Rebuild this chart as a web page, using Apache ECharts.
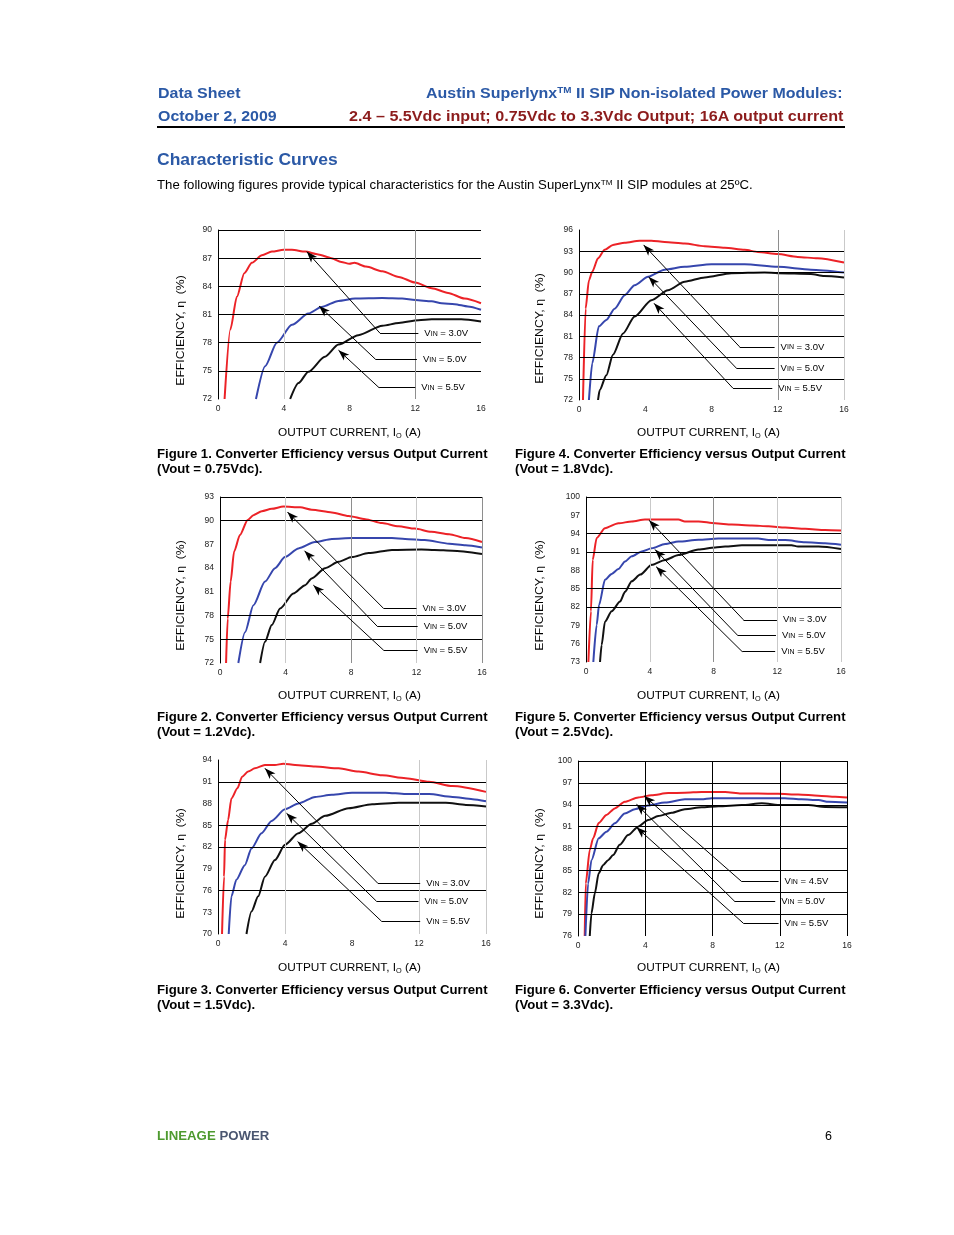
<!DOCTYPE html>
<html><head><meta charset="utf-8">
<script src="https://cdn.jsdelivr.net/npm/echarts@6/dist/echarts.min.js"></script>
<style>
html,body{margin:0;padding:0;background:#fff;}
body{width:954px;height:1235px;position:relative;overflow:hidden;font-family:"Liberation Sans",Arial,sans-serif;}
#chart{position:absolute;left:0;top:0;width:954px;height:1235px;}
.t{position:absolute;white-space:nowrap;transform-origin:0 50%;color:#000;}
.t sub{font-size:0.62em;line-height:0;vertical-align:-0.25em;}
.t .tm{font-size:0.62em;line-height:0;vertical-align:0.55em;}
.rule{position:absolute;left:157px;top:126px;width:688px;height:2px;background:#000;}
</style></head><body>
<div id="chart"></div>
<div class="rule"></div>
<script>
// ---------------- DATA ----------------
const xTicks = [0, 4, 8, 12, 16];
const yTicks1 = [72, 75, 78, 81, 84, 87, 90];
const yTicks2 = [72, 75, 78, 81, 84, 87, 90, 93];
const yTicks3 = [70, 73, 76, 79, 82, 85, 88, 91, 94];
const yTicks4 = [72, 75, 78, 81, 84, 87, 90, 93, 96];
const yTicks5 = [73, 76, 79, 82, 85, 88, 91, 94, 97, 100];
const yTicks6 = [76, 79, 82, 85, 88, 91, 94, 97, 100];

// Figure 1 (Vout = 0.75Vdc)
const f1_v30 = [[0.40,72],[0.75,79.4],[1.15,82.9],[1.6,85.4],[2.06,86.5],[2.67,87.3],[3.28,87.7],[4.0,87.9],[4.5,87.9],[5.3,87.7],[6.1,87.4],[6.9,87.0],[7.5,86.6],[8.0,86.4],[8.3,86.5],[9.0,86.1],[10,85.6],[11,85.0],[12,84.4],[13,83.8],[14,83.3],[15,82.7],[16,82.2]];
const f1_v50 = [[2.31,72],[2.87,75.5],[3.58,78.0],[4.5,79.9],[5.5,81.1],[6.3,81.8],[7.33,82.45],[8.34,82.7],[10,82.75],[11.2,82.7],[12,82.55],[13,82.4],[13.6,82.2],[14.4,82.1],[15.2,81.85],[16,81.5]];
const f1_v55 = [[4.39,72],[4.9,73.7],[5.5,74.9],[6.5,76.5],[7.33,77.8],[8.54,78.8],[10,79.8],[11,80.1],[12.2,80.4],[13,80.5],[14.8,80.5],[16,80.25]];

// Figure 2 (Vout = 1.2Vdc)
const f2_v30 = [[0.37,72],[0.47,77.6],[0.65,82.3],[0.86,86.1],[1.22,88.2],[1.69,90.1],[2.04,90.7],[2.55,91.2],[3.16,91.5],[3.87,91.8],[4.9,91.7],[5.6,91.4],[6.83,91.05],[7.85,90.6],[8.87,90.2],[9.9,89.7],[10.9,89.3],[11.9,89.0],[12.9,88.6],[14,88.3],[15,87.8],[16,87.3]];
const f2_v50 = [[1.12,72],[1.53,75.9],[2.04,79.3],[2.75,82.3],[3.36,84.0],[3.97,85.4],[4.79,86.5],[5.8,87.3],[6.83,87.7],[8.05,87.8],[10.5,87.8],[11.3,87.7],[12.5,87.55],[14,87.1],[15,86.9],[16,86.6]];
const f2_v55 = [[2.45,72],[2.75,74.7],[3.16,76.8],[3.67,78.9],[4.48,80.8],[5.2,81.85],[5.6,82.7],[6.42,84.0],[7.24,84.8],[8.05,85.4],[9.07,85.9],[10.5,86.3],[12.3,86.35],[13.1,86.3],[14.2,86.2],[16,85.8]];

// Figure 3 (Vout = 1.5Vdc)
const f3_v30 = [[0.24,70],[0.36,77.9],[0.42,83.0],[0.6,85.7],[0.8,88.7],[1.16,90.1],[1.44,91.7],[1.8,92.4],[2.2,92.85],[2.8,93.3],[3.4,93.3],[3.9,93.5],[4.6,93.3],[5.8,93.1],[7.2,92.85],[8.4,92.4],[9.8,91.9],[11.2,91.5],[12.6,91.0],[14,90.4],[16,89.6]];
const f3_v50 = [[0.64,70],[0.8,75.2],[1.1,77.5],[1.6,79.5],[2.0,81.8],[2.6,83.9],[3.2,85.6],[4.0,87.2],[4.8,88.0],[5.8,88.9],[6.8,89.2],[8.0,89.5],[10,89.5],[11.2,89.3],[12.6,89.3],[14,88.9],[15.2,88.6],[16,88.3]];
const f3_v55 = [[1.7,70],[2.0,73.1],[2.4,75.2],[2.8,77.9],[3.4,80.2],[4.0,82.3],[4.8,83.9],[5.6,85.2],[6.4,86.3],[7.8,87.35],[9.2,87.9],[10.8,88.1],[13.6,88.1],[14.8,87.8],[16,87.6]];

// Figure 4 (Vout = 1.8Vdc)
const f4_v30 = [[0.24,72],[0.4,84.9],[0.6,88.9],[0.8,90.1],[1.15,92.0],[1.55,93.2],[2.05,93.9],[2.76,94.2],[3.66,94.5],[4.37,94.5],[5.17,94.3],[6.38,94.1],[7.59,93.7],[8.8,93.5],[10,93.2],[10.8,92.9],[12,92.6],[13.2,92.2],[14.4,92.0],[16,91.4]];
const f4_v50 = [[0.6,72],[0.8,77.2],[1.2,82.4],[1.65,83.3],[2.15,84.9],[2.76,86.8],[3.36,88.2],[4.17,89.4],[5.17,90.4],[6.38,90.8],[8,91.15],[10,91.15],[12,90.8],[14,90.4],[16,90.0]];
const f4_v55 = [[1.15,72],[1.25,73.4],[1.65,75.5],[2.05,78.4],[2.66,81.4],[3.36,83.8],[4.37,86.1],[5.37,87.5],[6.38,88.7],[7.59,89.3],[9.2,89.9],[11.2,90.0],[12,89.9],[14,89.8],[14.8,89.5],[16,89.3]];

// Figure 5 (Vout = 2.5Vdc)
const f5_v30 = [[0.15,73],[0.31,81.3],[0.42,89.7],[0.67,93.3],[1.19,94.9],[2.03,95.7],[2.87,96.0],[3.7,96.3],[5.8,96.3],[6.2,96.0],[7.06,96.0],[8.1,95.7],[9.15,95.5],[10.4,95.35],[11.45,95.2],[12.5,95.0],[13.76,94.8],[15,94.6],[16,94.5]];
const f5_v50 = [[0.46,73],[0.67,79.1],[0.82,82.35],[1.19,86.45],[1.61,87.4],[2.03,88.2],[2.45,89.45],[2.87,90.3],[3.5,91.1],[4.13,91.6],[4.96,92.3],[5.8,92.7],[7.06,93.0],[8.3,93.2],[10.8,93.2],[11.45,92.95],[12.5,92.95],[13.76,92.6],[15,92.45],[16,92.2]];
const f5_v55 = [[0.88,73],[0.98,75.8],[1.19,79.6],[1.61,81.3],[2.14,82.9],[2.45,84.5],[2.87,86.2],[3.4,87.3],[4.13,88.9],[4.96,89.7],[5.8,90.5],[7.06,91.4],[8.1,91.75],[8.73,91.9],[9.78,92.1],[12.9,92.1],[13.3,91.9],[14.6,91.9],[16,91.5]];

// Figure 6 (Vout = 3.3Vdc)
const f6_v45 = [[0.4,76],[0.46,83.2],[0.7,87.8],[0.9,89.4],[1.23,91.5],[1.69,92.6],[2.19,93.5],[2.78,94.4],[3.58,95.0],[4.37,95.3],[5.37,95.6],[6.36,95.65],[7.35,95.75],[8.75,95.75],[9.7,95.55],[10.7,95.55],[11.9,95.5],[13.1,95.4],[14.3,95.25],[15.3,95.1],[16,95.0]];
const f6_v50 = [[0.44,76],[0.6,83.2],[0.8,86.4],[1.23,89.4],[1.69,90.3],[2.19,91.45],[2.78,92.8],[3.38,93.4],[4.17,93.9],[5.17,94.3],[6.36,94.75],[7.35,94.75],[7.95,94.9],[12.3,94.9],[13.3,94.75],[14.3,94.65],[14.9,94.4],[16,94.3]];
const f6_v55 = [[0.7,76],[0.8,79.1],[1.0,81.85],[1.23,84.6],[1.49,85.7],[1.79,86.4],[2.09,87.1],[2.48,88.5],[2.98,89.85],[3.58,91.0],[4.17,91.9],[4.77,92.45],[5.57,92.9],[6.36,93.4],[7.35,93.65],[8.35,93.8],[9.74,93.95],[10.93,94.2],[12.1,93.95],[13.7,93.95],[14.7,93.7],[16,93.65]];

// Annotation callouts: [tipX, tipY, tailX, tailY, lineEndX, VIN label]
const notes1 = [[5.4,87.7,9.86,79.0,12.19,'3.0V'],[6.15,81.9,9.6,76.2,12.1,'5.0V'],[7.33,77.2,9.8,73.2,12.0,'5.5V']];
const notes2 = [[4.12,91.1,9.99,78.9,12.0,'3.0V'],[5.16,86.2,9.6,76.65,12.07,'5.0V'],[5.7,81.85,10.0,73.6,12.07,'5.5V']];
const notes3 = [[2.8,92.85,9.54,77.0,12.07,'3.0V'],[4.09,86.66,9.47,74.5,11.97,'5.0V'],[4.75,82.76,9.77,71.74,12.07,'5.5V']];
const notes4 = [[3.9,93.9,9.7,79.5,11.81,'3.0V'],[4.2,89.4,9.5,76.5,11.81,'5.0V'],[4.53,85.65,9.3,73.65,11.67,'5.5V']];
const notes5 = [[3.96,96.2,9.88,79.9,11.98,'3.0V'],[4.33,91.4,9.5,77.4,11.92,'5.0V'],[4.4,88.6,9.8,74.7,11.87,'5.5V']];
const notes6 = [[3.94,95.2,9.74,83.45,11.93,'4.5V'],[3.48,94.06,9.34,80.7,11.73,'5.0V'],[3.48,90.9,9.84,77.74,11.93,'5.5V']];

// ---------------- LAYOUT / STYLE ----------------
const FONT = '"Liberation Sans", Arial, sans-serif';
const RED = '#ec2227', BLUE = '#3646ad', BLK = '#111111';
const K = '#000000', LG = '#c9c9c9', MG = '#8e8e8e';

const panels = [
  { grid:{left:218, top:230, width:263, height:169}, yMin:72, yMax:90, yTicks:yTicks1,
    curves:[f1_v30,f1_v50,f1_v55], notes:notes1,
    hLines:[[75,K],[78,K],[81,K],[84,K],[87,K],[90,K]], vLines:[[4,LG],[12,MG]] },
  { grid:{left:579, top:230, width:265, height:170}, yMin:72, yMax:96, yTicks:yTicks4,
    curves:[f4_v30,f4_v50,f4_v55], notes:notes4,
    hLines:[[75,K],[78,K],[81,K],[84,K],[87,K],[90,K],[93,K]], vLines:[[12,MG],[16,LG]] },
  { grid:{left:220, top:497, width:262, height:166}, yMin:72, yMax:93, yTicks:yTicks2,
    curves:[f2_v30,f2_v50,f2_v55], notes:notes2,
    hLines:[[75,K],[78,K],[90,K],[93,K]], vLines:[[4,LG],[8,MG],[12,LG],[16,MG]] },
  { grid:{left:586, top:497, width:255, height:165}, yMin:73, yMax:100, yTicks:yTicks5,
    curves:[f5_v30,f5_v50,f5_v55], notes:notes5,
    hLines:[[82,K],[85,K],[91,K],[94,K],[100,K]], vLines:[[4,LG],[8,MG],[12,LG],[16,LG]] },
  { grid:{left:218, top:760, width:268, height:174}, yMin:70, yMax:94, yTicks:yTicks3,
    curves:[f3_v30,f3_v50,f3_v55], notes:notes3,
    hLines:[[76,K],[82,K],[85,K],[91,K]], vLines:[[4,LG],[12,LG],[16,LG]] },
  { grid:{left:578, top:761, width:269, height:175}, yMin:76, yMax:100, yTicks:yTicks6,
    curves:[f6_v45,f6_v50,f6_v55], notes:notes6,
    hLines:[[79,K],[82,K],[85,K],[88,K],[91,K],[94,K],[97,K],[100,K]], vLines:[[4,K],[8,K],[12,K],[16,K]] }
];
const curveColors = [RED, BLUE, BLK];

const option = { animation:false, grid:[], xAxis:[], yAxis:[], series:[] };
panels.forEach((p, i) => {
  option.grid.push(Object.assign({containLabel:false}, p.grid));
  option.xAxis.push({
    gridIndex:i, type:'value', min:0, max:16,
    axisLine:{show:false}, axisTick:{show:false}, splitLine:{show:false},
    axisLabel:{customValues:xTicks, fontSize:8.5, margin:5, color:'#222', fontFamily:FONT}
  });
  option.yAxis.push({
    gridIndex:i, type:'value', min:p.yMin, max:p.yMax,
    axisLine:{show:true, onZero:false, lineStyle:{color:'#000', width:1}},
    axisTick:{show:false}, splitLine:{show:false},
    axisLabel:{customValues:p.yTicks, fontSize:8.5, margin:6, color:'#222', fontFamily:FONT}
  });
  // grid lines
  const gl = [];
  p.hLines.forEach(h => gl.push({yAxis:h[0], lineStyle:{color:h[1], width:1, type:'solid'}}));
  p.vLines.forEach(v => gl.push({xAxis:v[0], lineStyle:{color:v[1], width:1, type:'solid'}}));
  option.series.push({
    type:'line', xAxisIndex:i, yAxisIndex:i, data:[], z:1, silent:true,
    markLine:{silent:true, animation:false, symbol:['none','none'], label:{show:false}, data:gl}
  });
  // curves
  p.curves.forEach((c, k) => {
    option.series.push({
      type:'line', xAxisIndex:i, yAxisIndex:i, data:c, z:3, silent:true,
      symbol:'none', smooth:0.25, smoothMonotone:'x', clip:true,
      lineStyle:{color:curveColors[k], width:2}
    });
  });
  // callouts
  const ml = [];
  p.notes.forEach(n => {
    ml.push([{coord:[n[2], n[3]]}, {coord:[n[0], n[1]], symbol:'arrow', symbolSize:[6,11]}]);
    ml.push([{coord:[n[2], n[3]], label:{show:true, position:'end', distance:6,
              formatter:'V{s|IN} = ' + n[5], color:'#000', fontFamily:FONT, fontSize:9.5,
              rich:{s:{fontSize:7, fontFamily:FONT, color:'#000', verticalAlign:'bottom', padding:[0,0,1,0]}}}},
             {coord:[n[4], n[3]]}]);
  });
  option.series.push({
    type:'line', xAxisIndex:i, yAxisIndex:i, data:[], z:4, silent:true,
    markLine:{silent:true, animation:false, symbol:['none','none'],
      lineStyle:{color:'#000', width:1, type:'solid'}, itemStyle:{color:'#000'},
      label:{show:false}, emphasis:{disabled:true}, data:ml}
  });
});

const chart = echarts.init(document.getElementById('chart'), null, {renderer:'canvas'});
chart.setOption(option);

// ---------------- PAGE TEXT ----------------
function addText(html, x, cy, fs, o) {
  o = o || {};
  const d = document.createElement('div');
  d.className = 't';
  d.innerHTML = html;
  d.style.fontSize = fs + 'px';
  d.style.lineHeight = fs + 'px';
  d.style.fontWeight = o.bold ? 'bold' : 'normal';
  if (o.color) d.style.color = o.color;
  document.body.appendChild(d);
  const w = d.offsetWidth, h = d.offsetHeight;
  let s = o.scale || 1;
  if (o.w) s = o.w / w;
  if (o.rotate) {
    d.style.transformOrigin = '50% 50%';
    d.style.left = (x - w / 2) + 'px';
    d.style.top = (cy - h / 2) + 'px';
    d.style.transform = 'rotate(-90deg) scaleX(' + s + ')';
  } else {
    let left = x;
    if (o.center) left = x - w * s / 2;
    d.style.left = left + 'px';
    d.style.top = (cy - 0.49 * fs) + 'px';
    d.style.transform = 'scaleX(' + s + ')';
  }
  return s;
}
const HBLUE = '#2b59a6', HRED = '#8c1c1c';
addText('Data Sheet', 158, 92, 15, {bold:true, color:HBLUE, w:83});
addText('October 2, 2009', 158, 115, 15, {bold:true, color:HBLUE, w:119});
addText('Austin Superlynx<span class="tm">TM</span> II SIP Non-isolated Power Modules:', 426, 92, 15, {bold:true, color:HBLUE, w:417});
addText('2.4 – 5.5Vdc input; 0.75Vdc to 3.3Vdc Output; 16A output current', 349, 115, 15, {bold:true, color:HRED, w:495});
addText('Characteristic Curves', 157, 159, 17, {bold:true, color:HBLUE, w:181});
addText('The following figures provide typical characteristics for the Austin SuperLynx<span class="tm">TM</span> II SIP modules at 25ºC.', 157, 185, 12.5, {w:596});

const captions = [
  ['Figure 1. Converter Efficiency versus Output Current', '(Vout = 0.75Vdc).', 157, 453],
  ['Figure 4. Converter Efficiency versus Output Current', '(Vout = 1.8Vdc).', 515, 453],
  ['Figure 2. Converter Efficiency versus Output Current', '(Vout = 1.2Vdc).', 157, 716],
  ['Figure 5. Converter Efficiency versus Output Current', '(Vout = 2.5Vdc).', 515, 716],
  ['Figure 3. Converter Efficiency versus Output Current', '(Vout = 1.5Vdc).', 157, 989],
  ['Figure 6. Converter Efficiency versus Output Current', '(Vout = 3.3Vdc).', 515, 989]
];
captions.forEach(c => {
  const s = addText(c[0], c[2], c[3], 13, {bold:true, w:331});
  addText(c[1], c[2], c[3] + 15, 13, {bold:true, scale:s});
});

const xTitlePos = [[349,432],[708,432],[349,695],[708,695],[349,967],[708,967]];
xTitlePos.forEach(p => addText('OUTPUT CURRENT, I<sub>O</sub> (A)', p[0], p[1], 11, {center:true, w:143}));
const yTitlePos = [[180,330],[539,328],[180,595],[539,595],[180,863],[539,863]];
yTitlePos.forEach(p => addText('EFFICIENCY, η&nbsp; (%)', p[0], p[1], 11, {rotate:true, w:110}));

addText('<span style="color:#4e9a2f">LINEAGE</span> <span style="color:#4a5670">POWER</span>', 157, 1136, 12.5, {bold:true, w:112});
addText('6', 825, 1136, 12.5, {});
</script>
</body></html>
